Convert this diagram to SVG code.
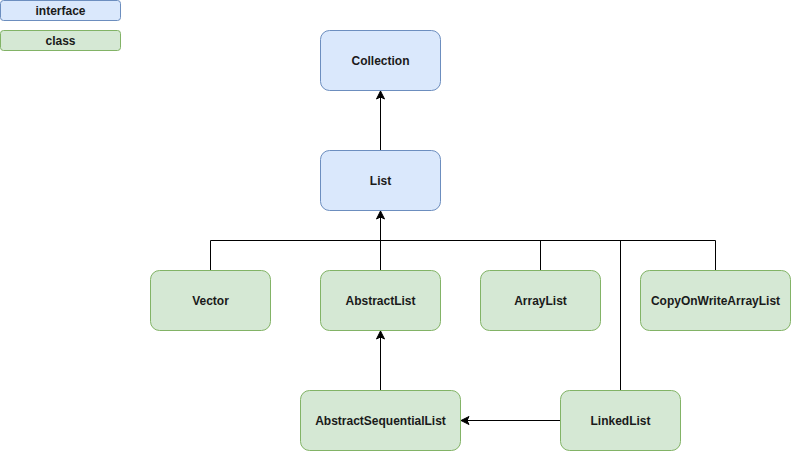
<svg xmlns="http://www.w3.org/2000/svg" width="791" height="451" viewBox="0 0 791 451">
<style>
.i{fill:#dae8fc;stroke:#6c8ebf;stroke-width:1}
.c{fill:#d5e8d4;stroke:#82b366;stroke-width:1}
text{font-family:"Liberation Sans",Arial,sans-serif;font-size:12px;font-weight:bold;fill:#1a1a1a;text-anchor:middle;dominant-baseline:central}
.e{fill:none;stroke:#000;stroke-width:1}
</style>
<defs>
<marker id="a" viewBox="0 0 10 10" refX="9" refY="5" markerWidth="10" markerHeight="10" markerUnits="userSpaceOnUse" orient="auto">
<path d="M1,1 L9,5 L1,9 L3,5 Z" fill="#000" stroke="#000" stroke-width="1"/>
</marker>
</defs>
<rect width="791" height="451" fill="#fff"/>
<g id="legend-interface"><rect class="i" x="0.5" y="0.5" width="120" height="20" rx="3"/><text x="60.5" y="10.5">interface</text></g>
<g id="legend-class"><rect class="c" x="0.5" y="30.5" width="120" height="20" rx="3"/><text x="60.5" y="40.5">class</text></g>
<g id="connectors">
<path class="e" d="M380.5,150 L380.5,91" marker-end="url(#a)"/>
<path class="e" d="M380.5,270 L380.5,211" marker-end="url(#a)"/>
<path class="e" d="M210.5,270 L210.5,240.5 L715.5,240.5 L715.5,270"/>
<path class="e" d="M540.5,270 L540.5,240.5"/>
<path class="e" d="M620.5,390 L620.5,240.5"/>
<path class="e" d="M380.5,390 L380.5,331" marker-end="url(#a)"/>
<path class="e" d="M560,420.5 L461,420.5" marker-end="url(#a)"/>
</g>
<g id="Collection"><rect class="i" x="320.5" y="30.5" width="120" height="60" rx="9"/><text x="380.5" y="60.5">Collection</text></g>
<g id="List"><rect class="i" x="320.5" y="150.5" width="120" height="60" rx="9"/><text x="380.5" y="180.5">List</text></g>
<g id="Vector"><rect class="c" x="150.5" y="270.5" width="120" height="60" rx="9"/><text x="210.5" y="300.5">Vector</text></g>
<g id="AbstractList"><rect class="c" x="320.5" y="270.5" width="120" height="60" rx="9"/><text x="380.5" y="300.5">AbstractList</text></g>
<g id="ArrayList"><rect class="c" x="480.5" y="270.5" width="120" height="60" rx="9"/><text x="540.5" y="300.5">ArrayList</text></g>
<g id="CopyOnWriteArrayList"><rect class="c" x="640.5" y="270.5" width="150" height="60" rx="9"/><text x="715.5" y="300.5">CopyOnWriteArrayList</text></g>
<g id="AbstractSequentialList"><rect class="c" x="300.5" y="390.5" width="160" height="60" rx="9"/><text x="380.5" y="420.5">AbstractSequentialList</text></g>
<g id="LinkedList"><rect class="c" x="560.5" y="390.5" width="120" height="60" rx="9"/><text x="620.5" y="420.5">LinkedList</text></g>
</svg>
